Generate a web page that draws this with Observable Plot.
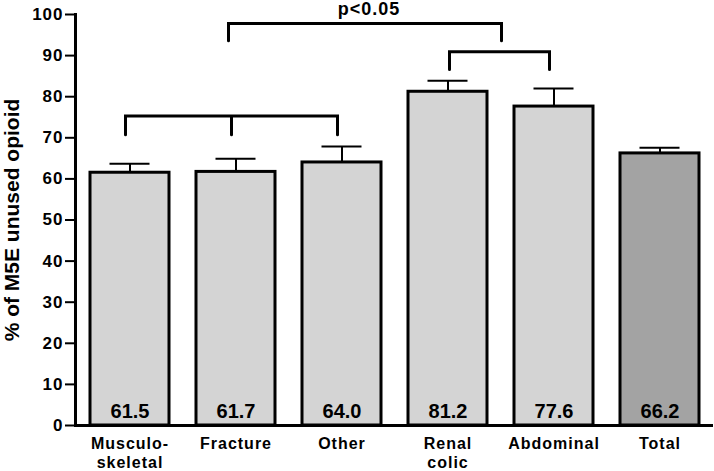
<!DOCTYPE html>
<html>
<head>
<meta charset="utf-8">
<script src="https://cdn.jsdelivr.net/npm/d3@7"></script>
<script src="https://cdn.jsdelivr.net/npm/@observablehq/plot@0.6"></script>
<style>
  html, body { margin: 0; padding: 0; background: #fff; }
  [aria-label="y-axis tick label"] text { letter-spacing: 1px; }
  [aria-label="x-axis tick label"] text { letter-spacing: 1px; }
  [aria-label="y-title"], [aria-label="y-title"] text { letter-spacing: 1.8px; }
  [aria-label="value label"], [aria-label="value label"] text { letter-spacing: 0.5px; }
</style>
</head>
<body>
<script>
const categories = ["Musculo-\nskeletal", "Fracture", "Other", "Renal\ncolic", "Abdominal", "Total"];
const means = [61.5, 61.7, 64.0, 81.2, 77.6, 66.2];
const errorTops = [63.7, 64.9, 67.9, 83.9, 82.0, 67.6];
const isTotal = [false, false, false, false, false, true];
const valueLabels = ["61.5", "61.7", "64.0", "81.2", "77.6", "66.2"];
const yTicks = [0, 10, 20, 30, 40, 50, 60, 70, 80, 90, 100];
const yTitle = "% of M5E unused opioid";

// significance brackets
const lowBracketCats = ["Musculo-\nskeletal", "Fracture", "Other"];
const lowBracketY = [70.6, 75.2];
const pairBracketCats = ["Renal\ncolic", "Abdominal"];
const pairBracketY = [86.5, 90.8];
const topBracketCat = "Fracture";
const topBracketY = [93.5, 97.7];
const pLabel = "p<0.05";

const data = categories.map((c, i) => ({
  cat: c, mean: means[i], err: errorTops[i], total: isTotal[i], label: valueLabels[i]
}));

const FONT = "'Liberation Sans', Arial, Helvetica, sans-serif";

function brackets(index, scales) {
  const x = scales.x, y = scales.y;
  const c = k => x(k) + x.bandwidth() / 2;
  const g = d3.create("svg:g").attr("aria-label", "brackets");
  const p = g.append("g").attr("fill", "none").attr("stroke", "black")
    .attr("stroke-width", 3).attr("stroke-linecap", "round").attr("stroke-linejoin", "miter");
  const lx = lowBracketCats.map(k => c(k) - 4);
  p.append("path").attr("d",
    `M${lx[0]},${y(lowBracketY[0])}V${y(lowBracketY[1])}H${lx[2]}V${y(lowBracketY[0])}` +
    `M${lx[1]},${y(lowBracketY[1])}V${y(lowBracketY[0])}`);
  const px = [c(pairBracketCats[0]) + 2, c(pairBracketCats[1]) - 4];
  p.append("path").attr("d",
    `M${px[0]},${y(pairBracketY[0])}V${y(pairBracketY[1])}H${px[1]}V${y(pairBracketY[0])}`);
  const tx0 = c(topBracketCat) - 7;
  const tx1 = (c(pairBracketCats[0]) + c(pairBracketCats[1])) / 2 + 1;
  p.append("path").attr("d",
    `M${tx0},${y(topBracketY[0])}V${y(topBracketY[1])}H${tx1}V${y(topBracketY[0])}`);
  g.append("text")
    .attr("x", (tx0 + tx1) / 2 + 4)
    .attr("y", y(100) + 1)
    .attr("text-anchor", "middle")
    .attr("font-family", FONT)
    .attr("font-weight", "bold")
    .attr("font-size", 18)
    .attr("letter-spacing", "1px")
    .attr("fill", "black")
    .text(pLabel);
  return g.node();
}

const chart = Plot.plot({
  width: 714,
  height: 471,
  marginLeft: 75,
  marginRight: 1,
  marginTop: 14,
  marginBottom: 46,
  style: { fontFamily: FONT, fontWeight: "bold", background: "#fff", color: "black" },
  x: { domain: categories, paddingInner: 0.257, paddingOuter: 0.13, label: null },
  y: { domain: [0, 100], label: null },
  marks: [
    Plot.barY(data, {
      x: "cat", y: "mean",
      fill: d => d.total ? "#a3a3a3" : "#d4d4d4",
      stroke: "black", strokeWidth: 3
    }),
    Plot.ruleX(data, { x: "cat", y1: "mean", y2: "err", stroke: "black", strokeWidth: 2 }),
    Plot.tickY(data, { x: "cat", y: "err", stroke: "black", strokeWidth: 2, insetLeft: 19.5, insetRight: 19.5 }),
    Plot.text(data, {
      x: "cat", text: "label", frameAnchor: "bottom", lineAnchor: "middle", dy: -14,
      fontSize: 20, fontWeight: "bold", fill: "black", ariaLabel: "value label"
    }),
    Plot.axisY({
      ticks: yTicks, tickSize: 10, tickPadding: 2, fontSize: 17, fontWeight: "bold",
      strokeWidth: 2, label: null
    }),
    Plot.axisX({
      tickSize: 0, tickPadding: 10, fontSize: 16, fontWeight: "bold", lineHeight: 1.18, label: null
    }),
    Plot.text([yTitle], {
      text: d => d, frameAnchor: "left", textAnchor: "middle", rotate: -90, dx: -63, lineAnchor: "middle",
      fontSize: 21, fontWeight: "bold", fill: "black", ariaLabel: "y-title"
    }),
    Plot.frame({ anchor: "left", strokeWidth: 3, stroke: "black" }),
    Plot.ruleY([0], { strokeWidth: 3, stroke: "black" }),
    brackets
  ]
});
document.body.appendChild(chart);
</script>
</body>
</html>
